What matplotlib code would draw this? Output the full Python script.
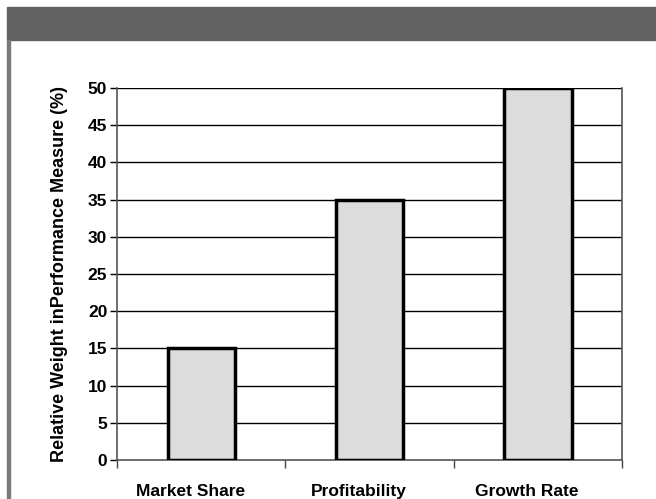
import matplotlib
matplotlib.use("Agg")
from matplotlib import pyplot as plt
from matplotlib.patches import Rectangle
from matplotlib.transforms import ScaledTranslation

categories = ["Market Share", "Profitability", "Growth Rate"]
weights = [15, 35, 50]
y_ticks = [0, 5, 10, 15, 20, 25, 30, 35, 40, 45, 50]

plt.rcParams['font.family'] = ['Liberation Sans', 'DejaVu Sans']

fig = plt.figure(figsize=(6.56, 4.99), dpi=100)

# frame decoration: dark header and left rule
fig.patches.append(Rectangle((7 / 656, 1 - 40 / 499), 1, 33 / 499,
                             transform=fig.transFigure, color="#636363", zorder=0))
fig.patches.append(Rectangle((7 / 656, 0), 3 / 656, 1 - 40 / 499,
                             transform=fig.transFigure, color="#7a7a7a", zorder=0))

ax = fig.add_axes([117 / 656, 39 / 499, 505 / 656, 372 / 499])
x = range(len(categories))
ax.bar(x, weights, width=0.4, color="#dcdcdc", edgecolor="black", linewidth=2.5, zorder=3)

ax.set_xlim(-0.5, len(categories) - 0.5)
ax.set_ylim(0, 50)
ax.set_yticks(y_ticks)
ax.set_yticklabels([str(v) for v in y_ticks], fontweight="bold", fontsize=12.5)
for v in y_ticks[1:]:
    ax.axhline(v, color="black", linewidth=1, zorder=1)

ax.set_xticks(list(x))
ax.set_xticklabels(categories, fontweight="bold", fontsize=12.5)
ax.tick_params(axis="x", which="major", length=0, pad=17)
shift = ScaledTranslation(-0.11, 0, fig.dpi_scale_trans)
for lbl in ax.get_xticklabels():
    lbl.set_transform(lbl.get_transform() + shift)
ax.set_xticks([-0.5, 0.5, 1.5, 2.5], minor=True)
ax.tick_params(axis="x", which="minor", length=6, width=1, color="#444444")
ax.tick_params(axis="y", length=5, width=1, pad=2)

for side in ["left", "right", "bottom"]:
    ax.spines[side].set_color("#555555")
    ax.spines[side].set_linewidth(1.2)
ax.spines["top"].set_visible(False)

ax.set_ylabel("Relative Weight inPerformance Measure (%)", fontweight="bold", fontsize=13, labelpad=14)

fig.savefig("out.png", dpi=100)
